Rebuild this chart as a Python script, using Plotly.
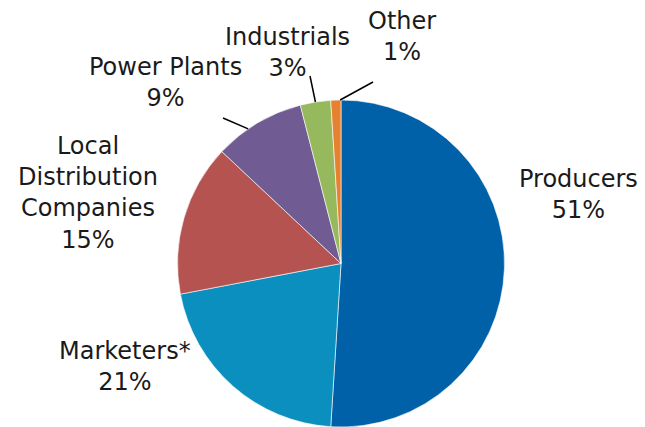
import math
import plotly.graph_objects as go

W, H = 645, 427

# Share of natural gas by customer segment (percent)
segments = ["Producers", "Marketers*", "Local<br>Distribution<br>Companies",
            "Power Plants", "Industrials", "Other"]
shares = [51, 21, 15, 9, 3, 1]
colors = ["#0060A8", "#0A8FBF", "#B4534F", "#705C92", "#97B95E", "#E6812F"]

# Pie geometry in pixels
cx, cy, r = 341, 263.5, 163.5


def px(x):
    return x / W


def py(y):
    return 1 - y / H


fig = go.Figure(go.Pie(
    labels=[s.replace("<br>", " ") for s in segments],
    values=shares,
    sort=False,
    direction="clockwise",
    rotation=0,
    marker=dict(colors=colors, line=dict(color="white", width=0.6)),
    textinfo="none",
    hoverinfo="label+percent",
    domain=dict(x=[px(cx - r), px(cx + r)], y=[0, (2 * r) / H]),
    showlegend=False,
))

# label placement: (center x, center y) of each text block in pixels
label_pos = {
    0: (578, 194),
    1: (125, 366),
    2: (88, 193),
    3: (165, 82),
    4: (287, 52),
    5: (402, 37),
}
# outer end of leader lines for the small slices
leader_out = {3: (223, 118), 4: (310, 76), 5: (373, 82)}
# angle (deg, clockwise from top) on the rim where each leader touches
total = sum(shares)
cum = 0
mids = []
for v in shares:
    mids.append((cum + v / 2) / total * 360)
    cum += v
leader_angle = {3: mids[3] - 4, 4: mids[4], 5: mids[5] + 1.5}

font = dict(family="DejaVu Sans", size=24, color="#1a1a1a")
annotations = []
for i, name in enumerate(segments):
    x, y = label_pos[i]
    annotations.append(dict(
        text=f"{name}<br>{shares[i]}%", x=px(x), y=py(y),
        xref="paper", yref="paper", showarrow=False,
        xanchor="center", yanchor="middle", align="center", font=font))

shapes = []
for i, (ox, oy) in leader_out.items():
    a = math.radians(leader_angle[i])
    ex = cx + r * math.sin(a)
    ey = cy - r * math.cos(a)
    shapes.append(dict(type="line", xref="paper", yref="paper",
                       x0=px(ox), y0=py(oy), x1=px(ex), y1=py(ey),
                       line=dict(color="black", width=1.5)))

fig.update_layout(
    width=W, height=H,
    margin=dict(l=0, r=0, t=0, b=0),
    paper_bgcolor="white", plot_bgcolor="white",
    annotations=annotations, shapes=shapes,
)

fig.write_html("out.html")
